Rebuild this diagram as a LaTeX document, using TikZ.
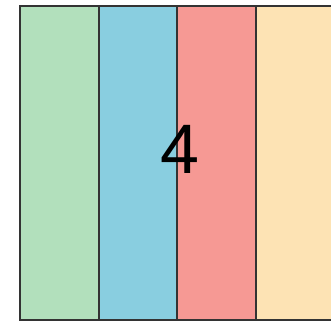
\documentclass[tikz,border=0pt]{standalone}
\usepackage{fontspec}
\setmainfont{Liberation Sans}
\definecolor{cgreen}{HTML}{B2E0BC}
\definecolor{cblue}{HTML}{89CEE0}
\definecolor{cred}{HTML}{F69994}
\definecolor{cyellow}{HTML}{FDE3B4}
\definecolor{cline}{HTML}{333333}
\begin{document}
\begin{tikzpicture}[x=1pt,y=-1pt,
  col/.style={draw=cline,line width=2pt}]
\useasboundingbox (0,0) rectangle (331,322);
\clip (0,0) rectangle (331,322);
\fill[white] (0,0) rectangle (331,322);
\filldraw[col,fill=cgreen] (20,6) rectangle (98.5,320);
\filldraw[col,fill=cblue] (98.5,6) rectangle (177,320);
\filldraw[col,fill=cred] (177,6) rectangle (255.5,320);
\filldraw[col,fill=cyellow] (255.5,6) rectangle (345,320);
\node[font=\fontsize{70}{70}\selectfont,inner sep=0pt] (n) at (180,149) {4};
\end{tikzpicture}
\end{document}
